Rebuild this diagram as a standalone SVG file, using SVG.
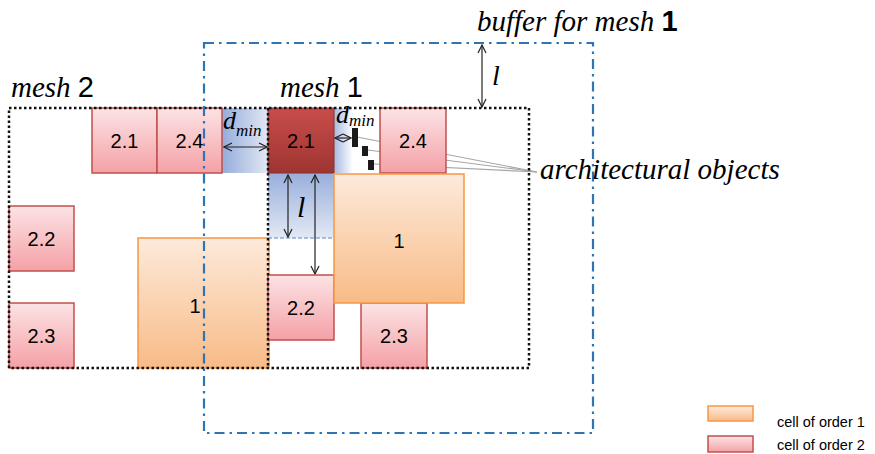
<svg xmlns="http://www.w3.org/2000/svg" width="875" height="454" viewBox="0 0 875 454">
<defs>
<linearGradient id="g2" x1="0" y1="0" x2="0" y2="1"><stop offset="0" stop-color="#FCE3E5"/><stop offset="1" stop-color="#F4A1A6"/></linearGradient>
<linearGradient id="g1" x1="0" y1="0" x2="0" y2="1"><stop offset="0" stop-color="#FDEADB"/><stop offset="1" stop-color="#F8BB87"/></linearGradient>
<linearGradient id="gd" x1="0" y1="0" x2="0" y2="1"><stop offset="0" stop-color="#C84D4A"/><stop offset="1" stop-color="#9E3532"/></linearGradient>
<linearGradient id="bh" x1="0" y1="0" x2="1" y2="0"><stop offset="0" stop-color="#95ACDA"/><stop offset="1" stop-color="#E2E8F4"/></linearGradient>
<linearGradient id="bh2" x1="0" y1="0" x2="1" y2="0"><stop offset="0" stop-color="#A7BAE0"/><stop offset="1" stop-color="#FFFFFF"/></linearGradient>
<linearGradient id="bv" x1="0" y1="0" x2="0" y2="1"><stop offset="0" stop-color="#98AEDB"/><stop offset="1" stop-color="#E3E9F5"/></linearGradient>
<marker id="ah" viewBox="0 0 10 10" refX="9" refY="5" markerWidth="10" markerHeight="10" markerUnits="userSpaceOnUse" orient="auto-start-reverse">
<path d="M1,1 L9,5 L1,9" fill="none" stroke="#222" stroke-width="1.2"/>
</marker>
<style>
.c2{fill:url(#g2);stroke:#C0504D;stroke-width:1.5}
.c1{fill:url(#g1);stroke:#F79646;stroke-width:1.5}
.lbl{font-family:"Liberation Sans",Arial,sans-serif;font-size:20px;fill:#000;text-anchor:middle}
.it{font-family:"Liberation Serif","Times New Roman",serif;font-style:italic;fill:#000}
.dig{font-family:"Liberation Sans",Arial,sans-serif;font-style:normal}
.mesh{fill:none;stroke:#111;stroke-width:2.5;stroke-dasharray:2.5 2.5}
.buf{fill:none;stroke:#2E75B6;stroke-width:2.2;stroke-dasharray:10 5 2.5 5}
.arr{stroke:#222;stroke-width:1.2;fill:none;marker-start:url(#ah);marker-end:url(#ah)}
.lead{stroke:#A6A6A6;stroke-width:1.2;fill:none}
.leg{font-family:"Liberation Sans",Arial,sans-serif;font-size:14.5px;fill:#000}
</style>
</defs>
<rect width="875" height="454" fill="#fff"/>

<g id="zones">
<rect x="222" y="108" width="46" height="65" fill="url(#bh)"/>
<rect x="334" y="108" width="19" height="65" fill="url(#bh2)"/>
<rect x="268" y="173" width="66" height="65" fill="url(#bv)"/>
<line x1="268" y1="238" x2="334" y2="238" stroke="#5B86C5" stroke-width="1" stroke-dasharray="4 2"/>
</g>

<g id="connectors">
<line class="lead" x1="357" y1="137" x2="537" y2="172"/>
<line class="lead" x1="368" y1="150" x2="537" y2="172"/>
<line class="lead" x1="374" y1="164" x2="537" y2="172"/>
<line class="arr" x1="224" y1="147" x2="267" y2="147"/>
<line class="arr" x1="335" y1="138" x2="351" y2="138"/>
<line class="arr" x1="288" y1="175" x2="288" y2="237"/>
<line class="arr" x1="315" y1="175" x2="315" y2="274"/>
<line class="arr" x1="482" y1="45" x2="482" y2="107"/>
</g>

<g id="m2-c21"><rect class="c2" x="92" y="108" width="65" height="65"/><text class="lbl" x="124.5" y="147.5">2.1</text></g>
<g id="m2-c24"><rect class="c2" x="157" y="108" width="65" height="65"/><text class="lbl" x="189.5" y="147.5">2.4</text></g>
<g id="m2-c22"><rect class="c2" x="9" y="206" width="65" height="65"/><text class="lbl" x="41.5" y="245.5">2.2</text></g>
<g id="m2-c23"><rect class="c2" x="9" y="303" width="65" height="65"/><text class="lbl" x="41.5" y="342.5">2.3</text></g>
<g id="m2-c1"><rect class="c1" x="138" y="238" width="131" height="130"/><text class="lbl" x="195" y="313">1</text></g>

<g id="m1-c21"><rect x="268" y="108" width="66" height="65" fill="url(#gd)" stroke="#8E2E2B" stroke-width="1"/><text class="lbl" x="301" y="147.5">2.1</text></g>
<g id="m1-c24"><rect class="c2" x="380" y="108" width="66" height="65"/><text class="lbl" x="413" y="147.5">2.4</text></g>
<g id="m1-c22"><rect class="c2" x="268" y="275" width="66" height="65"/><text class="lbl" x="301" y="314.5">2.2</text></g>
<g id="m1-c23"><rect class="c2" x="361" y="303" width="66" height="65"/><text class="lbl" x="394" y="342.5">2.3</text></g>
<g id="m1-c1"><rect class="c1" x="334" y="174" width="130" height="129"/><text class="lbl" x="399" y="248">1</text></g>

<g id="objects" fill="#1a1a1a">
<rect x="352" y="128" width="6" height="19"/>
<rect x="362" y="146" width="6" height="10"/>
<rect x="368" y="160" width="6" height="10"/>
</g>

<g id="meshes">
<rect class="mesh" x="9" y="108" width="520" height="260"/>
<line class="mesh" x1="268" y1="108" x2="268" y2="368"/>
</g>

<g id="buffer">
<rect class="buf" x="204" y="43" width="389" height="390"/>
</g>

<g id="labels">
<text class="it" x="11" y="97" font-size="29">mesh <tspan class="dig">2</tspan></text>
<text class="it" x="280" y="97" font-size="29">mesh <tspan class="dig">1</tspan></text>
<text class="it" x="477" y="31" font-size="29">buffer for mesh <tspan class="dig" font-weight="bold" font-style="italic">1</tspan></text>
<text class="it" x="540" y="179" font-size="29">architectural objects</text>
<text class="it" x="492" y="85" font-size="28">l</text>
<text class="it" x="297" y="217" font-size="30">l</text>
<text class="it" x="223" y="129" font-size="26">d<tspan font-size="17" dy="7">min</tspan></text>
<text class="it" x="336" y="123" font-size="26">d<tspan font-size="17" dy="3">min</tspan></text>
</g>

<g id="legend">
<rect class="c1" x="708" y="406" width="45" height="15"/>
<rect class="c2" x="708" y="436" width="45" height="16"/>
<text class="leg" x="777" y="427">cell of order 1</text>
<text class="leg" x="777" y="450">cell of order 2</text>
</g>
</svg>
